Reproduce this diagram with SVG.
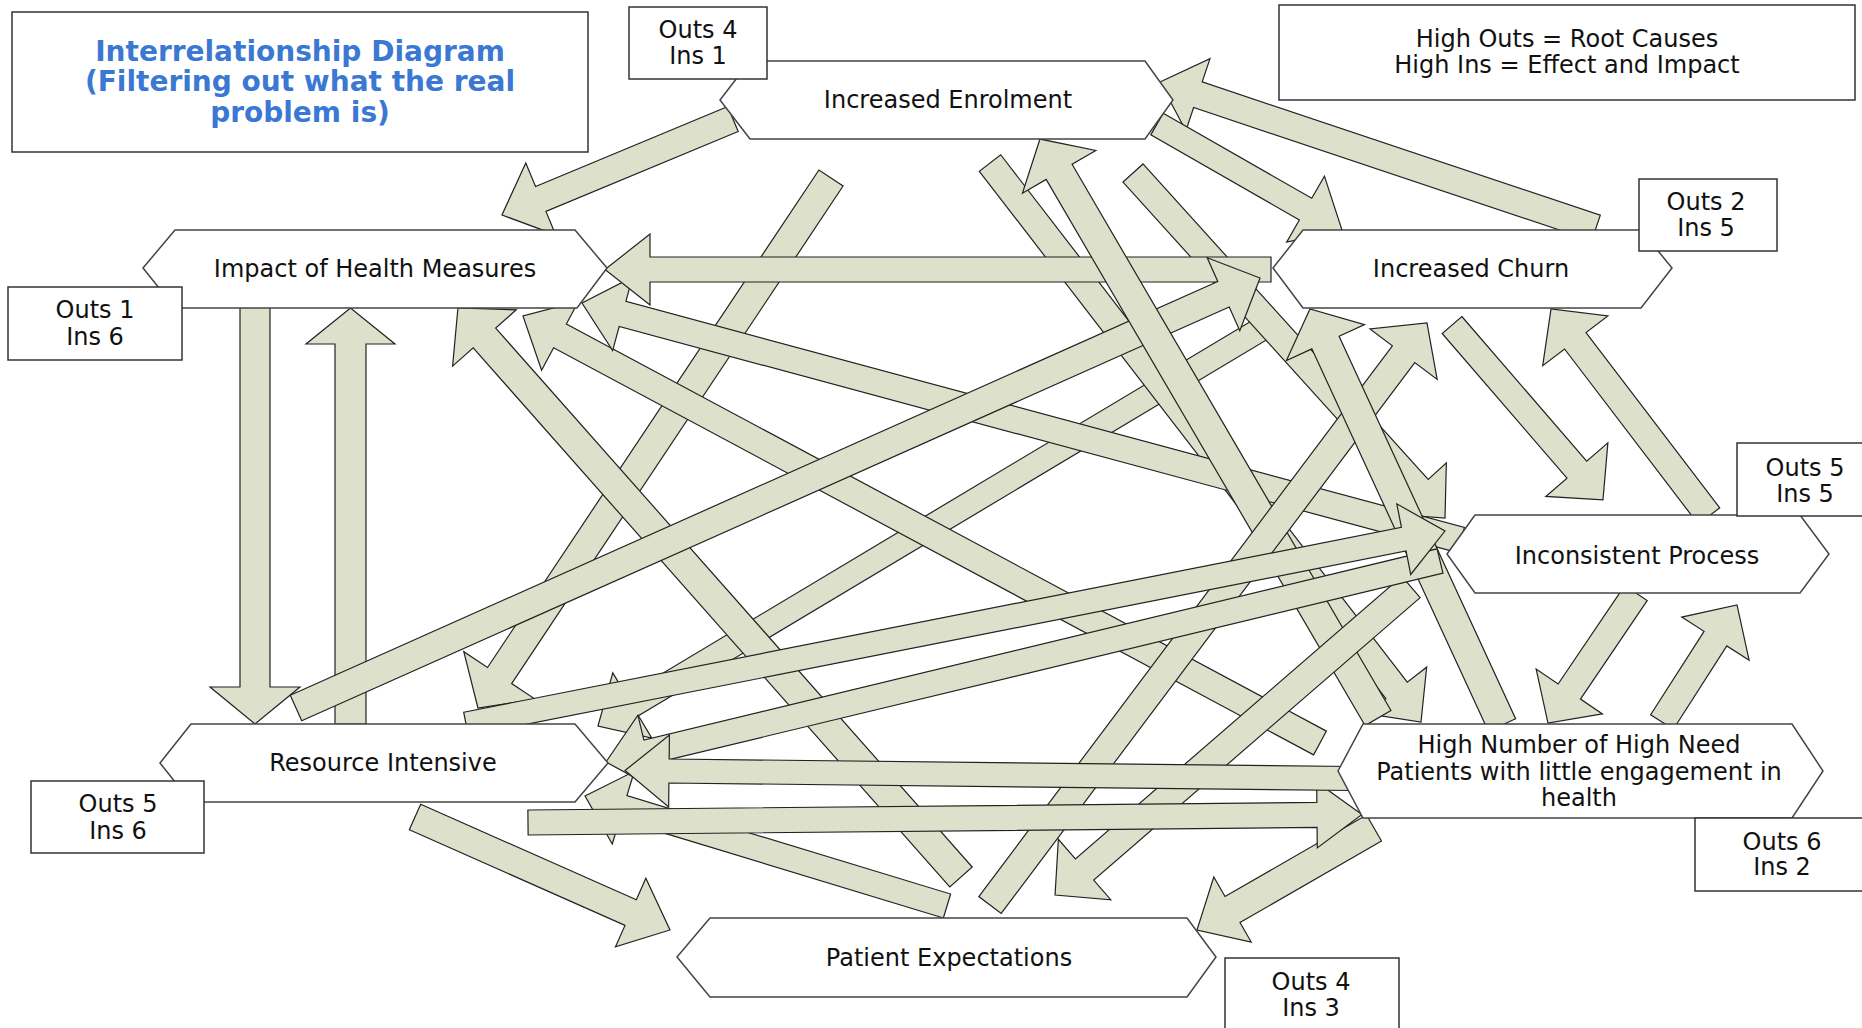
<svg xmlns="http://www.w3.org/2000/svg" width="1862" height="1028" viewBox="0 0 1862 1028">
<style>
.ar{fill:#dde0cb;stroke:#222;stroke-width:1.2;stroke-linejoin:miter}
.hx{fill:#fff;stroke:#444;stroke-width:1.5}
.bx{fill:#fff;stroke:#333;stroke-width:1.5}
.t{font-family:"DejaVu Sans",Verdana,sans-serif;font-size:24px;fill:#111;text-anchor:middle}
.tt{font-family:"DejaVu Sans",Verdana,sans-serif;font-size:28px;font-weight:bold;fill:#3a78d4;text-anchor:middle}
</style>
<rect width="1862" height="1028" fill="#fff"/>
<g id="connectors">
<path class="ar" transform="translate(733,119) rotate(157.43)" d="M0,-13.5H208.2V-39L250.2,0L208.2,39V13.5H0Z"/>
<path class="ar" transform="translate(1596,228) rotate(-161.49)" d="M0,-13.5H419.8V-38L459.8,0L419.8,38V13.5H0Z"/>
<path class="ar" transform="translate(1157,124) rotate(29.81)" d="M0,-12.5H171.2V-38L213.2,0L171.2,38V12.5H0Z"/>
<path class="ar" transform="translate(255,307) rotate(90)" d="M0,-15H380V-45L417,0L380,45V15H0Z"/>
<path class="ar" transform="translate(350.5,724) rotate(-90)" d="M0,-15.5H380V-44.5L416,0L380,44.5V15.5H0Z"/>
<path class="ar" transform="translate(831,178) rotate(123.67)" d="M0,-14.5H597.8V-43L636.8,0L597.8,43V14.5H0Z"/>
<path class="ar" transform="translate(1273,322) rotate(149.10)" d="M0,-12H746.7V-38L786.7,0L746.7,38V12H0Z"/>
<path class="ar" transform="translate(990,163) rotate(52.37)" d="M0,-13.5H665.9V-38L705.9,0L665.9,38V13.5H0Z"/>
<path class="ar" transform="translate(1133,173) rotate(47.88)" d="M0,-13.5H425.2V-38L465.2,0L425.2,38V13.5H0Z"/>
<path class="ar" transform="translate(961,877) rotate(-131.48)" d="M0,-15H719.5V-42.5L759.5,0L719.5,42.5V15H0Z"/>
<path class="ar" transform="translate(1320,743) rotate(-151.82)" d="M0,-13.5H862.2V-39L904.2,0L862.2,39V13.5H0Z"/>
<path class="ar" transform="translate(1461,540) rotate(-164.91)" d="M0,-13H868.4V-38L910.4,0L868.4,38V13H0Z"/>
<path class="ar" transform="translate(1271,269.5) rotate(180)" d="M0,-12.5H621V-35.5L666,0L621,35.5V12.5H0Z"/>
<path class="ar" transform="translate(296,708) rotate(-24.04)" d="M0,-14H1015.6V-40L1055.6,0L1015.6,40V14H0Z"/>
<path class="ar" transform="translate(1378,718) rotate(-120.28)" d="M0,-15H632.4V-42.5L670.4,0L632.4,42.5V15H0Z"/>
<path class="ar" transform="translate(1452,325) rotate(49.21)" d="M0,-13H191.1V-41L231.1,0L191.1,41V13H0Z"/>
<path class="ar" transform="translate(1709,516) rotate(-127.35)" d="M0,-13.5H220.4V-41L260.4,0L220.4,41V13.5H0Z"/>
<path class="ar" transform="translate(1636,593) rotate(124.10)" d="M0,-13.5H119V-40L157,0L119,40V13.5H0Z"/>
<path class="ar" transform="translate(1662,722) rotate(-57.34)" d="M0,-13.5H99V-40L139,0L99,40V13.5H0Z"/>
<path class="ar" transform="translate(990,905) rotate(-53.10)" d="M0,-14H688.8V-42L727.8,0L688.8,42V14H0Z"/>
<path class="ar" transform="translate(1502,725) rotate(-114.78)" d="M0,-15H421.2V-43L458.2,0L421.2,43V15H0Z"/>
<path class="ar" transform="translate(1411,587) rotate(139.13)" d="M0,-14H431.7V-40L470.7,0L431.7,40V14H0Z"/>
<path class="ar" transform="translate(1374,828) rotate(150.05)" d="M0,-15H163.3V-37.5L204.3,0L163.3,37.5V15H0Z"/>
<path class="ar" transform="translate(415,817) rotate(23.90)" d="M0,-14H235.9V-37.5L278.9,0L235.9,37.5V14H0Z"/>
<path class="ar" transform="translate(947,906) rotate(-163.10)" d="M0,-12.5H338.3V-38L378.3,0L338.3,38V12.5H0Z"/>
<path class="ar" transform="translate(1440,561) rotate(166.45)" d="M0,-12.5H815.9V-38L857.9,0L815.9,38V12.5H0Z"/>
<path class="ar" transform="translate(466,724) rotate(-11.15)" d="M0,-12H955.8V-36L997.8,0L955.8,36V12H0Z"/>
<path class="ar" transform="translate(528,822.5) rotate(-0.55)" d="M0,-12.5H789V-33L834,0L789,33V12.5H0Z"/>
<path class="ar" transform="translate(1352,778.5) rotate(-179.37)" d="M0,-12H683V-36L727,0L683,36V12H0Z"/>
</g>
<g id="title">
<rect class="bx" x="12" y="12" width="576" height="140"/>
<text class="tt" x="300" y="61">Interrelationship Diagram</text>
<text class="tt" x="300" y="91">(Filtering out what the real</text>
<text class="tt" x="300" y="122">problem is)</text>
</g>
<g id="legend">
<rect class="bx" x="1279" y="5" width="576" height="95"/>
<text class="t" x="1567" y="46.5">High Outs = Root Causes</text>
<text class="t" x="1567" y="72.5">High Ins = Effect and Impact</text>
</g>
<g id="enrolment">
<polygon class="hx" points="720,100 750,61 1145,61 1173,100 1145,139 750,139"/>
<text class="t" x="948" y="108">Increased Enrolment</text>
<rect class="bx" x="629" y="7" width="138" height="72"/>
<text class="t" x="698" y="37.5">Outs 4</text>
<text class="t" x="698" y="63.5">Ins 1</text>
</g>
<g id="impact">
<polygon class="hx" points="143,268 175,230 575,230 607,268 577,308 175,308"/>
<text class="t" x="375" y="276.5">Impact of Health Measures</text>
<rect class="bx" x="8" y="287" width="174" height="73"/>
<text class="t" x="95" y="317.5">Outs 1</text>
<text class="t" x="95" y="344.5">Ins 6</text>
</g>
<g id="churn">
<polygon class="hx" points="1273,268 1303,230 1641,230 1672,268 1641,308 1303,308"/>
<text class="t" x="1471" y="277">Increased Churn</text>
<rect class="bx" x="1639" y="179" width="138" height="72"/>
<text class="t" x="1706" y="209.5">Outs 2</text>
<text class="t" x="1706" y="235.5">Ins 5</text>
</g>
<g id="inconsistent">
<polygon class="hx" points="1447,554 1475,515 1800,515 1829,554 1800,593 1475,593"/>
<text class="t" x="1637" y="564">Inconsistent Process</text>
<rect class="bx" x="1737" y="443" width="140" height="73"/>
<text class="t" x="1805" y="475.5">Outs 5</text>
<text class="t" x="1805" y="501.5">Ins 5</text>
</g>
<g id="highneed">
<polygon class="hx" points="1338,771 1363,724 1792,724 1823,771 1792,818 1363,818"/>
<text class="t" x="1579" y="752.5">High Number of High Need</text>
<text class="t" x="1579" y="779.5">Patients with little engagement in</text>
<text class="t" x="1579" y="805.5">health</text>
<rect class="bx" x="1695" y="818" width="180" height="73"/>
<text class="t" x="1782" y="849.5">Outs 6</text>
<text class="t" x="1782" y="874.5">Ins 2</text>
</g>
<g id="resource">
<polygon class="hx" points="160,763 191,724 575,724 608,763 575,802 191,802"/>
<text class="t" x="383" y="770.5">Resource Intensive</text>
<rect class="bx" x="31" y="781" width="173" height="72"/>
<text class="t" x="118" y="811.5">Outs 5</text>
<text class="t" x="118" y="838.5">Ins 6</text>
</g>
<g id="patient">
<polygon class="hx" points="677,957 710,918 1187,918 1216,957 1187,997 710,997"/>
<text class="t" x="949" y="965.5">Patient Expectations</text>
<rect class="bx" x="1225" y="958" width="174" height="80"/>
<text class="t" x="1311" y="989.5">Outs 4</text>
<text class="t" x="1311" y="1015.5">Ins 3</text>
</g>
</svg>
